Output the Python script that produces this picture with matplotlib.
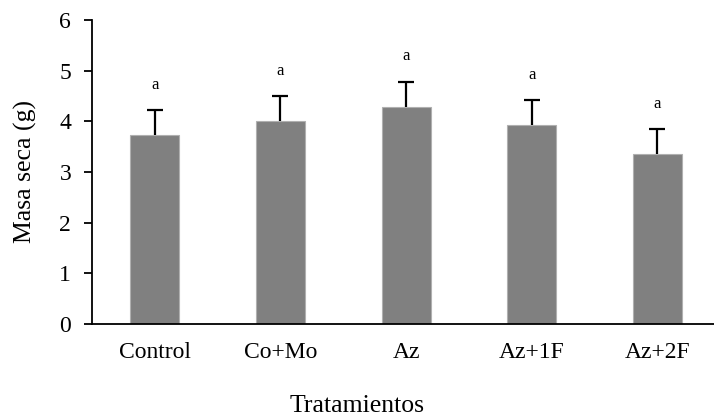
import matplotlib
matplotlib.use('Agg')
import matplotlib.pyplot as plt
import numpy as np

# Dry mass per treatment
tratamientos = ['Control', 'Co+Mo', 'Az', 'Az+1F', 'Az+2F']
masa_seca = [3.72, 4.00, 4.28, 3.92, 3.35]
error = [0.50, 0.50, 0.50, 0.50, 0.50]
letras = ['a', 'a', 'a', 'a', 'a']

plt.rcParams['font.family'] = ['Liberation Serif', 'DejaVu Serif']

fig = plt.figure(figsize=(7.14, 4.16), dpi=100)
ax = fig.add_axes([0.1289, 0.2212, 0.8796, 0.7308])

x = np.arange(len(tratamientos))
ax.bar(x, masa_seca, width=0.39, color='#808080', edgecolor='#b0b0b0', linewidth=0.8, zorder=2)

# upper error bars only: stem plus a cap at the top
tope = np.add(masa_seca, error)
ax.vlines(x, masa_seca, tope, color='black', linewidth=1.6, zorder=3)
ax.plot(x, tope, ls='none', marker='_', markersize=12, markeredgewidth=1.6, color='black', zorder=3)

# significance letters above each error bar
for xi, t, l in zip(x, tope, letras):
    ax.text(xi, t + 0.5, l, ha='center', va='center', fontsize=12)

ax.set_xlim(-0.5, len(tratamientos) - 0.5)
ax.set_ylim(0, 6)
ax.set_yticks(range(0, 7))
ax.set_xticks(x)
ax.set_xticklabels(tratamientos)

ax.spines['top'].set_visible(False)
ax.spines['right'].set_visible(False)
ax.spines['left'].set_linewidth(1.3)
ax.spines['bottom'].set_linewidth(1.3)
ax.tick_params(axis='y', direction='out', length=6, width=1.3, labelsize=17, pad=9)
ax.tick_params(axis='x', length=0, labelsize=17, pad=13)

ax.set_ylabel('Masa seca (g)', fontsize=18.5, labelpad=16)
fig.text(0.5, 0.024, 'Tratamientos', ha='center', va='center', fontsize=18.5)

fig.savefig('out.png', dpi=100)
